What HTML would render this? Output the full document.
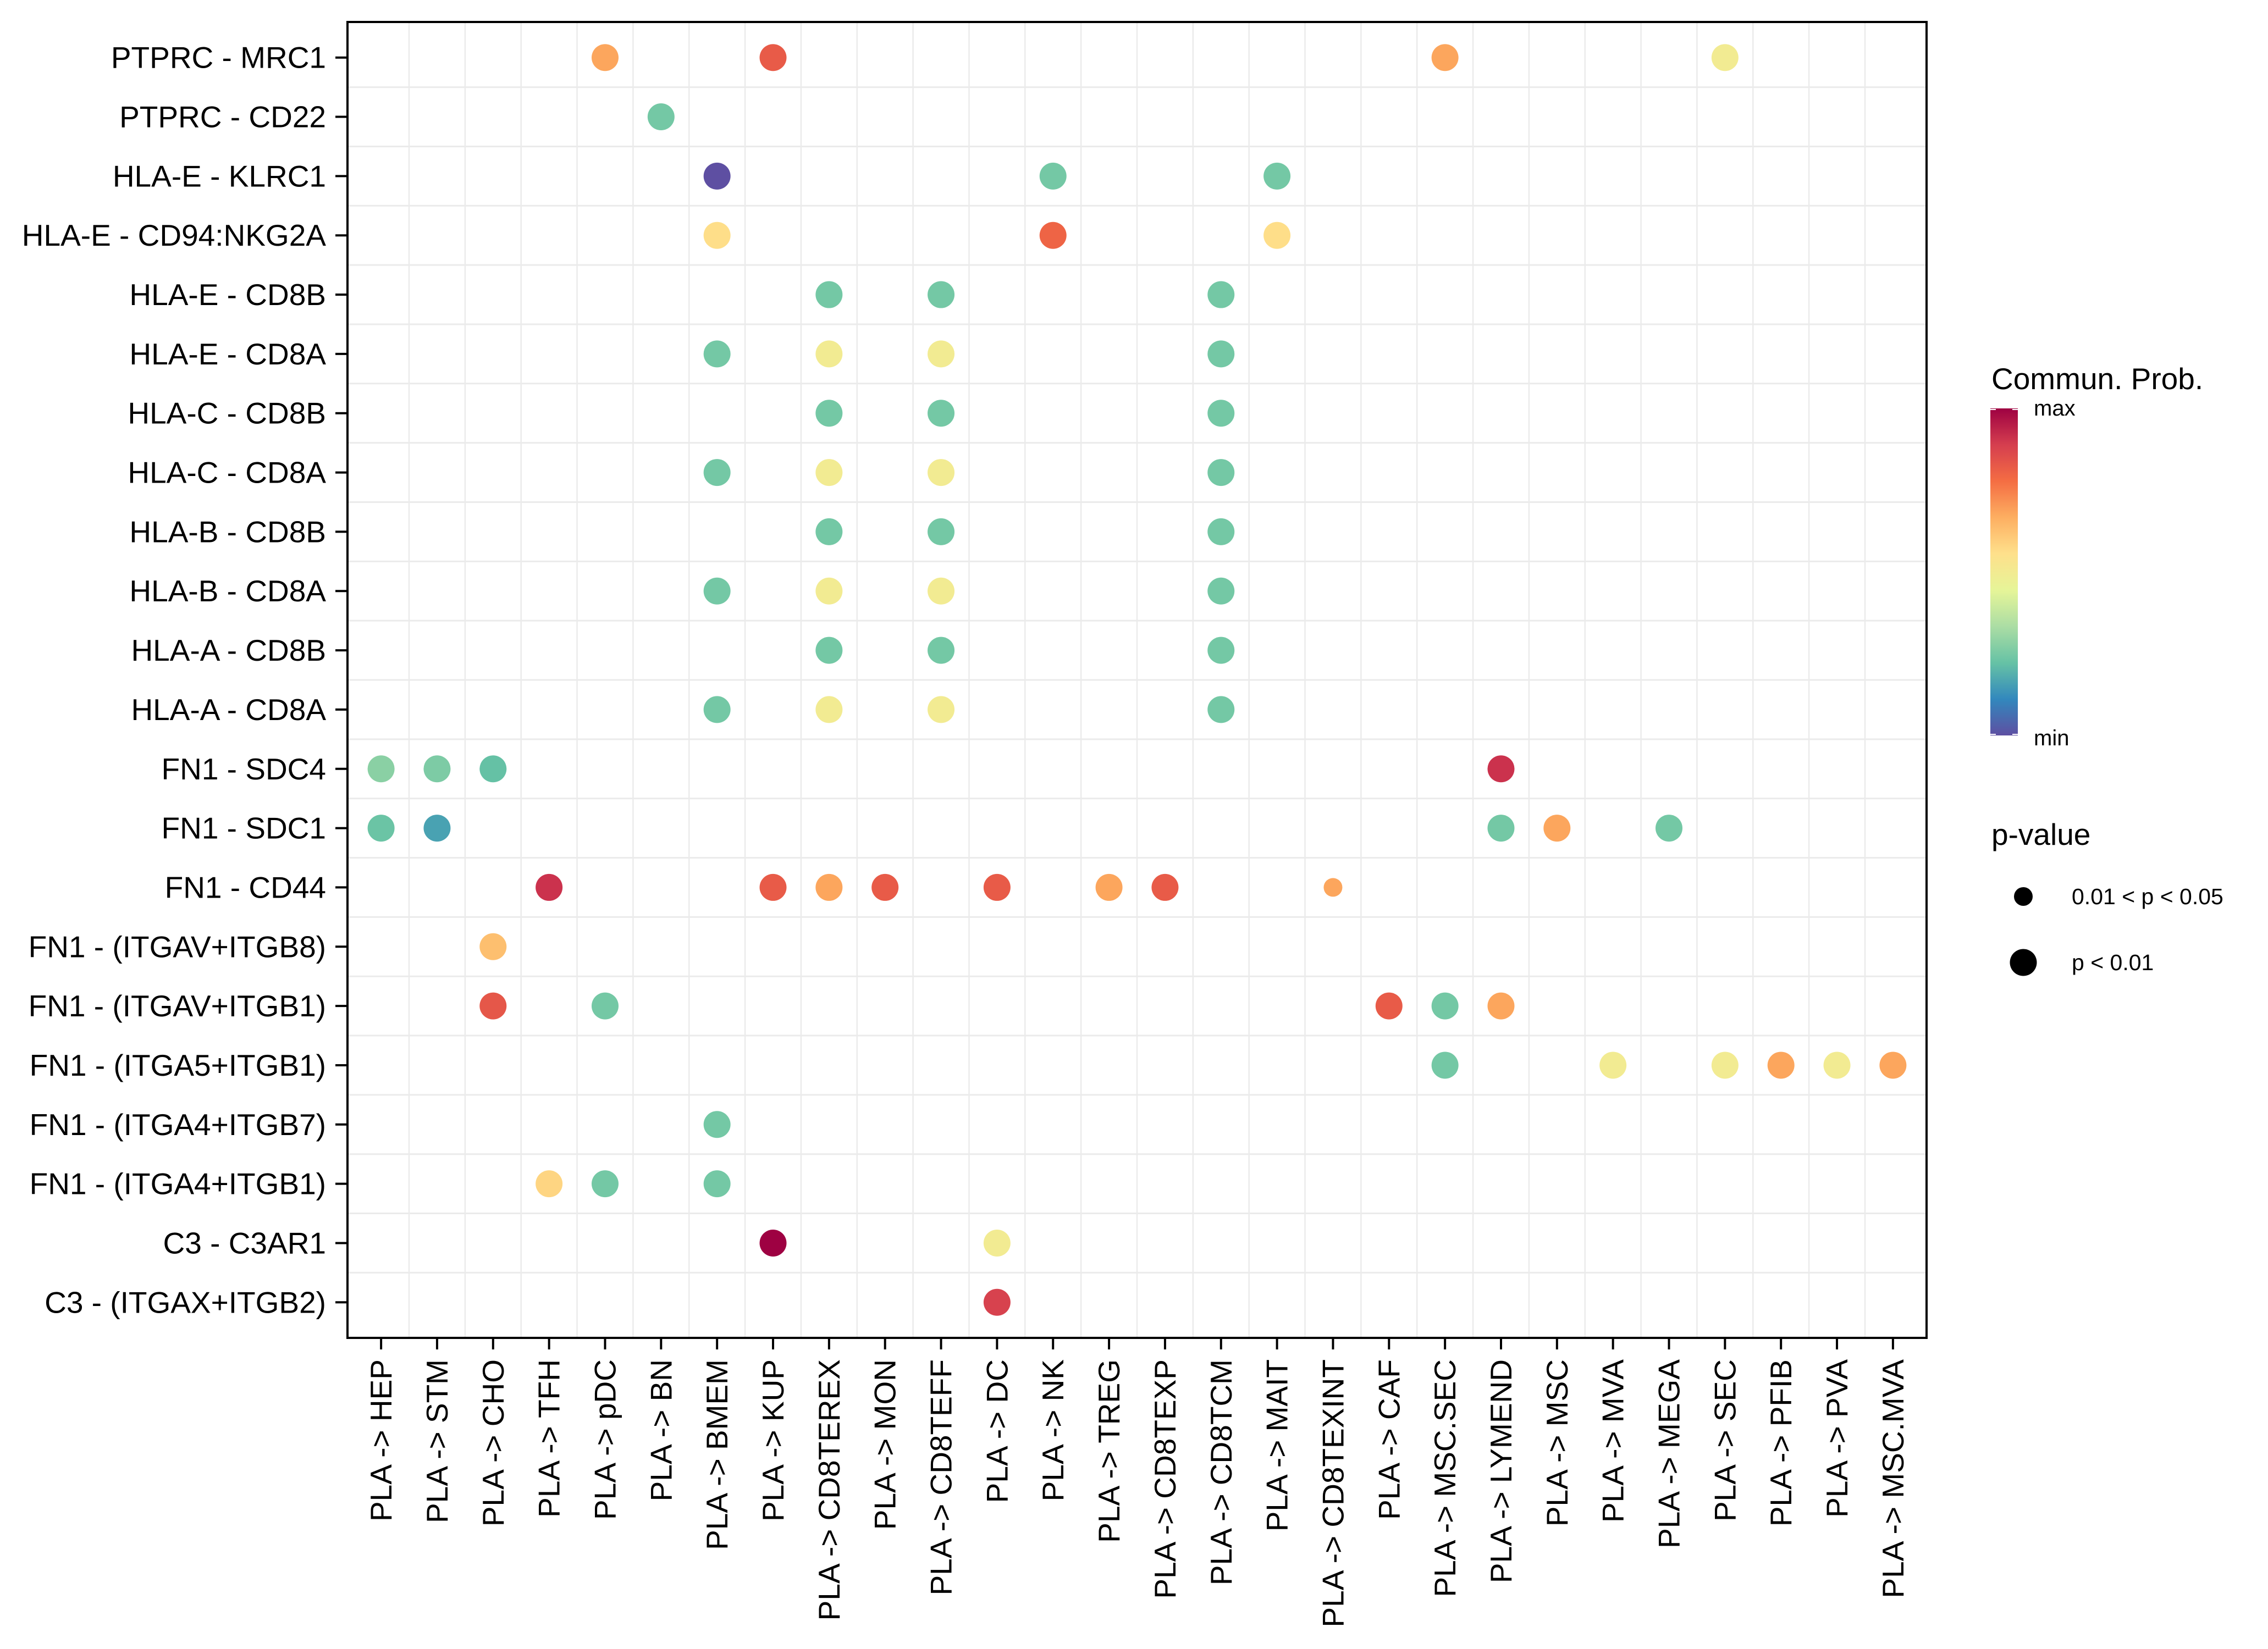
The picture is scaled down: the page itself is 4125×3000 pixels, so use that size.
<!DOCTYPE html>
<html><head><meta charset="utf-8"><style>
html,body{margin:0;padding:0;background:#fff;}
svg{display:block;font-family:"Liberation Sans",sans-serif;}
</style></head><body>
<svg id="chart" width="4125" height="3000" viewBox="0 0 4125 3000">
<defs>
<linearGradient id="spec" x1="0" y1="1" x2="0" y2="0">
<stop offset="0" stop-color="#5E4FA2"/><stop offset="0.111" stop-color="#3288BD"/><stop offset="0.222" stop-color="#66C2A5"/><stop offset="0.333" stop-color="#ABDDA4"/><stop offset="0.444" stop-color="#E6F598"/><stop offset="0.556" stop-color="#FEE08B"/><stop offset="0.667" stop-color="#FDAE61"/><stop offset="0.778" stop-color="#F46D43"/><stop offset="0.889" stop-color="#D53E4F"/><stop offset="1" stop-color="#9E0142"/>
</linearGradient>
</defs>
<g id="grid"></g>
<g id="dots"></g>
<rect x="632" y="40" width="2872" height="2394" fill="none" stroke="#000" stroke-width="4"/>
<g id="yaxis"></g>
<g id="xaxis"></g>
<g>
<text x="3622" y="708" font-size="55">Commun. Prob.</text>
<rect x="3620" y="743" width="50" height="595" fill="url(#spec)"/>
<line x1="3620" y1="745" x2="3630" y2="745" stroke="#fff" stroke-width="2"/><line x1="3660" y1="745" x2="3670" y2="745" stroke="#fff" stroke-width="2"/>
<line x1="3620" y1="1336" x2="3630" y2="1336" stroke="#fff" stroke-width="2"/><line x1="3660" y1="1336" x2="3670" y2="1336" stroke="#fff" stroke-width="2"/>
<text x="3699" y="756" font-size="40">max</text>
<text x="3699" y="1356" font-size="40">min</text>
</g>
<g>
<text x="3622" y="1537" font-size="55">p-value</text>
<circle cx="3680" cy="1631" r="17" fill="#000"/>
<text x="3768" y="1631" font-size="41" dominant-baseline="central">0.01 &lt; p &lt; 0.05</text>
<circle cx="3680" cy="1751" r="24.5" fill="#000"/>
<text x="3768" y="1751" font-size="41" dominant-baseline="central">p &lt; 0.01</text>
</g>
</svg>
<script>
const categories = ["HEP","STM","CHO","TFH","pDC","BN","BMEM","KUP","CD8TEREX","MON","CD8TEFF","DC","NK","TREG","CD8TEXP","CD8TCM","MAIT","CD8TEXINT","CAF","MSC.SEC","LYMEND","MSC","MVA","MEGA","SEC","PFIB","PVA","MSC.MVA"];
const pairs = ["PTPRC - MRC1","PTPRC - CD22","HLA-E - KLRC1","HLA-E - CD94:NKG2A","HLA-E - CD8B","HLA-E - CD8A","HLA-C - CD8B","HLA-C - CD8A","HLA-B - CD8B","HLA-B - CD8A","HLA-A - CD8B","HLA-A - CD8A","FN1 - SDC4","FN1 - SDC1","FN1 - CD44","FN1 - (ITGAV+ITGB8)","FN1 - (ITGAV+ITGB1)","FN1 - (ITGA5+ITGB1)","FN1 - (ITGA4+ITGB7)","FN1 - (ITGA4+ITGB1)","C3 - C3AR1","C3 - (ITGAX+ITGB2)"];
// each point: [pair index, category index]
const pointPair = [0,0,0,0, 1, 2,2,2, 3,3,3, 4,4,4, 5,5,5,5, 6,6,6, 7,7,7,7, 8,8,8, 9,9,9,9, 10,10,10, 11,11,11,11, 12,12,12,12, 13,13,13,13,13, 14,14,14,14,14,14,14,14, 15, 16,16,16,16,16, 17,17,17,17,17,17, 18, 19,19,19, 20,20, 21];
const pointCat  = [4,7,19,24, 5, 6,12,16, 6,12,16, 8,10,15, 6,8,10,15, 8,10,15, 6,8,10,15, 8,10,15, 6,8,10,15, 8,10,15, 6,8,10,15, 0,1,2,20, 0,1,20,21,23, 3,7,8,9,11,13,14,17, 2, 2,4,18,19,20, 19,22,24,25,26,27, 6, 3,4,6, 7,11, 11];
const probValues = [0.68,0.82,0.68,0.5, 0.245, 0,0.245,0.245, 0.56,0.8,0.56, 0.245,0.245,0.245, 0.245,0.5,0.5,0.245, 0.245,0.245,0.245, 0.245,0.5,0.5,0.245, 0.245,0.245,0.245, 0.245,0.5,0.5,0.245, 0.245,0.245,0.245, 0.245,0.5,0.5,0.245, 0.28,0.26,0.22,0.91, 0.23,0.16,0.245,0.68,0.245, 0.91,0.82,0.68,0.82,0.82,0.68,0.82,0.68, 0.63, 0.83,0.245,0.82,0.245,0.68, 0.245,0.5,0.5,0.68,0.5,0.68, 0.245, 0.58,0.245,0.245, 1.0,0.5, 0.88];
const pSignif = [1,1,1,1, 1, 1,1,1, 1,1,1, 1,1,1, 1,1,1,1, 1,1,1, 1,1,1,1, 1,1,1, 1,1,1,1, 1,1,1, 1,1,1,1, 1,1,1,1, 1,1,1,1,1, 1,1,1,1,1,1,1,0, 1, 1,1,1,1,1, 1,1,1,1,1,1, 1, 1,1,1, 1,1, 1];

const NS="http://www.w3.org/2000/svg";
const L=632,R=3504,T=40,B=2434;
const ux=(R-L)/(categories.length-1+1.2), uy=(B-T)/(pairs.length-1+1.2);
const xScale=i=>L+(0.6+i)*ux;
const yScale=i=>T+(0.6+i)*uy;
const stops=["#5E4FA2","#3288BD","#66C2A5","#ABDDA4","#E6F598","#FEE08B","#FDAE61","#F46D43","#D53E4F","#9E0142"];
function hex(h){return [1,3,5].map(k=>parseInt(h.substr(k,2),16));}
function colorScale(v){const t=Math.max(0,Math.min(1,v))*(stops.length-1);const i=Math.min(stops.length-2,Math.floor(t));const f=t-i;const a=hex(stops[i]),b=hex(stops[i+1]);return "rgb("+a.map((c,k)=>Math.round(c+(b[k]-c)*f)).join(",")+")";}
const sizeScale=s=>s?24.5:17;
function mk(tag,attrs,parent){const e=document.createElementNS(NS,tag);for(const k in attrs)e.setAttribute(k,attrs[k]);parent.appendChild(e);return e;}

const grid=document.getElementById('grid');
for(let i=0;i<categories.length-1;i++){const x=(xScale(i)+xScale(i+1))/2;
 const l=mk('line',{x1:x,y1:T,x2:x,y2:B,stroke:'#EBEBEB','stroke-width':2.5},grid);
 
 }
for(let j=0;j<pairs.length-1;j++){const y=(yScale(j)+yScale(j+1))/2;
 const l=mk('line',{x1:L,y1:y,x2:R,y2:y,stroke:'#EBEBEB','stroke-width':3},grid);
 
 }

const ya=document.getElementById('yaxis');
pairs.forEach((p,j)=>{const y=yScale(j);
 const tk=mk('line',{x1:610,y1:y,x2:632,y2:y,stroke:'#000','stroke-width':4},ya);
 
 
 const t=mk('text',{x:593,y:y,'font-size':55,'text-anchor':'end','dominant-baseline':'central'},ya);
 t.textContent=p;
 
 });

const xa=document.getElementById('xaxis');
categories.forEach((c,i)=>{const x=xScale(i);
 const tk=mk('line',{x1:x,y1:2434,x2:x,y2:2455,stroke:'#000','stroke-width':4},xa);
 
 
 const t=mk('text',{transform:'translate('+x+',2473) rotate(-90)','font-size':55,'text-anchor':'end','dominant-baseline':'central'},xa);
 t.textContent='PLA -> '+c;
 
 });

const dots=document.getElementById('dots');
probValues.forEach((v,k)=>{
 const c=mk('circle',{cx:xScale(pointCat[k]),cy:yScale(pointPair[k]),r:sizeScale(pSignif[k]),fill:colorScale(v)},dots);
 
 });
</script>
</body></html>
